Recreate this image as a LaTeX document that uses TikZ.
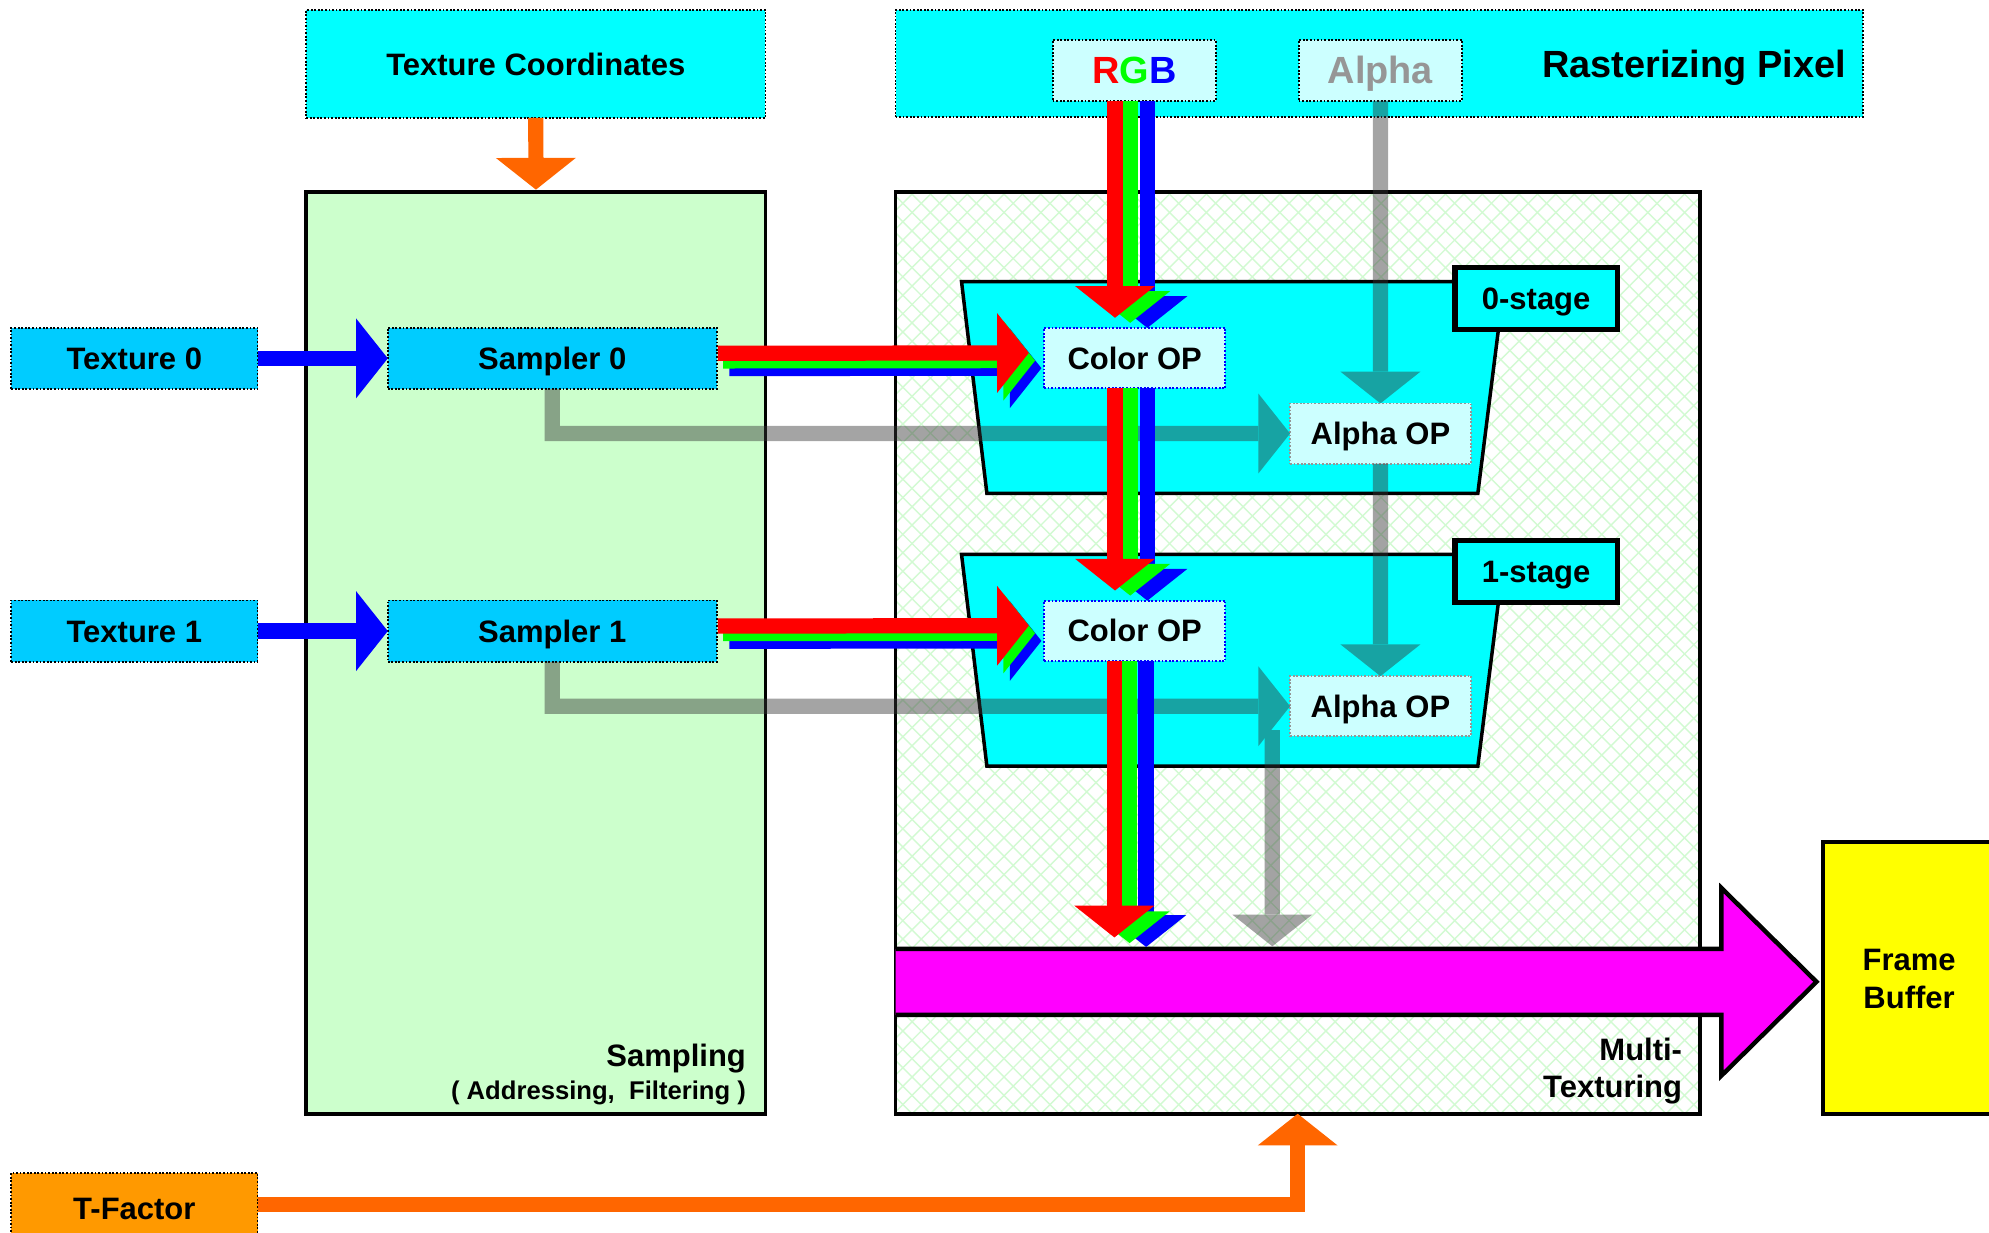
\documentclass[tikz,border=0pt]{standalone}
\usepackage{fontspec}
\setmainfont{Liberation Sans}
\usetikzlibrary{arrows.meta,calc}
\definecolor{cyanbg}{HTML}{00FFFF}
\definecolor{skyb}{HTML}{00CCFF}
\definecolor{lcyan}{HTML}{CCFFFF}
\definecolor{lgreen}{HTML}{CCFFCC}
\definecolor{hatchc}{RGB}{210,250,210}
\definecolor{magent}{HTML}{FF00FF}
\definecolor{yel}{HTML}{FFFF00}
\definecolor{tfac}{HTML}{FF9900}
\definecolor{orng}{HTML}{FF6600}
\definecolor{arrblue}{HTML}{0000FF}
\definecolor{arrred}{HTML}{FF0000}
\definecolor{arrgreen}{HTML}{00FF00}
\definecolor{darkg}{RGB}{53,53,53}
\definecolor{alphatxt}{RGB}{150,150,150}
\newcommand\mybox[7][]{\node[#1, minimum width={(#5-#3)*0.2mm}, minimum height={(#6-#4)*0.2mm}] (#2) at ({(#3+#5)/2},{(#4+#6)/2}) {#7};}
\begin{document}
\begin{tikzpicture}[x=0.2mm, y=-0.2mm,
  every node/.style={inner sep=0pt, outer sep=0pt},
  txt/.style={font=\bfseries\fontsize{13.9}{17}\selectfont},
  lbl/.style={txt, text height=10pt, text depth=0pt},
  biglbl/.style={font=\bfseries\fontsize{17}{20}\selectfont, text height=12.2pt, text depth=0pt},
  smalltxt/.style={font=\bfseries\fontsize{11.5}{14}\selectfont},
  dotbox/.style={draw=black, line width=0.8pt, dash pattern=on 0.8pt off 0.8pt},
  bluedot/.style={draw=arrblue, line width=0.8pt, dash pattern=on 0.8pt off 0.8pt},
  graydot/.style={draw=alphatxt, line width=0.8pt, dash pattern=on 0.8pt off 0.8pt},
  stagebox/.style={draw=black, line width=0.8mm, fill=cyanbg, lbl},
  blk/.style={line width=2.4mm, line cap=butt, line join=miter, -{Triangle[length=5mm,width=12.6mm,line width=0pt]}},
  hatch/.style={draw=hatchc, line width=0.22mm},
  trap/.style={fill=cyanbg, draw=black, line width=0.55mm, line join=miter}
]
\useasboundingbox (0,0) rectangle (1568,972);
\clip (0,0) rectangle (1568,972);

% top boxes
\mybox[dotbox, fill=cyanbg, lbl]{tc}{241.4}{7.9}{603.4}{93}{Texture Coordinates}
\mybox[dotbox, fill=cyanbg]{ras}{706}{7.9}{1468.7}{92}{}
\node[biglbl] (rastxt) at (1335.5,50) {Rasterizing Pixel};
\mybox[dotbox, fill=lcyan, biglbl]{rgb}{829.8}{31.5}{958.6}{79.4}{\textcolor{arrred}{R}\textcolor{arrgreen}{G}\textcolor{arrblue}{B}}
\mybox[dotbox, fill=lcyan, biglbl, text=alphatxt]{alpha}{1023.8}{31.5}{1152.6}{79.4}{Alpha}

% sampling box
\mybox[fill=lgreen, draw=black, line width=0.6mm]{samp}{241.5}{151.5}{603.5}{878}{}
\node[txt, anchor=base east] (samptxt) at (588,841) {Sampling};
\node[smalltxt, anchor=base east] (samptxt2) at (588,867) {( Addressing,\ \ Filtering )};

% multi-texturing box with hatch
\mybox[fill=white]{multi}{706}{151.5}{1340}{878}{}
\begin{scope}
  \clip (706,151.5) rectangle (1340,878);
  \foreach \i in {0,...,99} {
    \draw[hatch] ({706-728+\i*14.5},151.5) -- ++(728,728);
    \draw[hatch] ({706+\i*14.5},151.5) -- ++(-728,728);
  }
\end{scope}
\draw[line width=0.6mm] (multi.north west) rectangle (multi.south east);
\node[txt, anchor=base east] (multitxt) at (1326,836) {Multi-};
\node[txt, anchor=base east] (multitxt2) at (1326,865.5) {Texturing};

% frame buffer
\mybox[fill=yel, draw=black, line width=0.65mm]{fb}{1437}{664}{1640}{878}{}
\node[txt, align=center] (fbtxt) at (1505,772) {Frame\\Buffer};

% stages
\filldraw[trap] (758,222) -- (1186,222) -- (1165,389) -- (778,389) -- cycle;
\filldraw[trap] (758,437) -- (1186,437) -- (1165,604) -- (778,604) -- cycle;
\mybox[stagebox]{st0}{1147}{211}{1275}{260}{0-stage}
\mybox[stagebox]{st1}{1147}{426}{1275}{475}{1-stage}

% op boxes
\mybox[bluedot, fill=lcyan, lbl]{cop0}{823}{258.5}{966}{306}{Color OP}
\mybox[bluedot, fill=lcyan, lbl]{cop1}{823}{473.5}{966}{521}{Color OP}
\mybox[graydot, fill=lcyan, lbl]{aop0}{1017}{318}{1159.5}{365.5}{Alpha OP}
\mybox[graydot, fill=lcyan, lbl]{aop1}{1017}{533}{1159.5}{580.5}{Alpha OP}

% textures and samplers
\mybox[dotbox, fill=skyb, lbl]{t0}{8.8}{258.3}{203}{306.7}{Texture 0}
\mybox[dotbox, fill=skyb, lbl]{t1}{8.8}{473.3}{203}{521.7}{Texture 1}
\mybox[dotbox, fill=skyb, lbl]{s0}{305.7}{258.3}{565}{306.7}{Sampler 0}
\mybox[dotbox, fill=skyb, lbl]{s1}{305.7}{473.3}{565}{521.7}{Sampler 1}
\mybox[dotbox, fill=tfac, lbl]{tf}{8.8}{924.5}{203}{980}{T-Factor}

% magenta arrow to frame buffer
\coordinate (magtop) at (894.5,748);
\fill[magent] (706,748) -- (1357,748) -- (1357,700) -- (1432,774) -- (1357,848) -- (1357,800) -- (706,800) -- cycle;
\draw[line width=0.7mm, line join=miter] (706,748) -- (1357,748) -- (1357,700) -- (1432,774) -- (1357,848) -- (1357,800) -- (706,800);

% gray alpha arrows
\begin{scope}[transparency group, opacity=0.45]
  \draw[blk, darkg] (s0.south) |- (aop0.west);
  \draw[blk, darkg] (s1.south) |- (aop1.west);
  \draw[blk, darkg] (alpha.south) -- (aop0.north);
  \draw[blk, darkg] (aop0.south) -- (aop1.north);
  \draw[blk, darkg] ($(aop1.south west)+(-14,-5)$) -- ($(aop1.south west |- magtop)+(-14,-2)$);
\end{scope}

% orange and blue arrows
\draw[blk, orng] (tc.south) -- ($(samp.north)+(0,-2)$);
\draw[blk, orng] ($(tf.east)+(0,-3)$) -| (multi.south);
\draw[blk, arrblue] (t0.east) -- (s0.west);
\draw[blk, arrblue] (t1.east) -- (s1.west);

% RGB horizontal arrows
\draw[blk, arrblue] ($(s0.east)+(10,8)$) -- ($(cop0.west)+(-2,8)$);
\draw[blk, arrgreen] ($(s0.east)+(5,2)$) -- ($(cop0.west)+(-7,2)$);
\draw[blk, arrred] ($(s0.east)+(1,-4)$) -- ($(cop0.west)+(-12,-4)$);
\draw[blk, arrblue] ($(s1.east)+(10,8)$) -- ($(cop1.west)+(-2,8)$);
\draw[blk, arrgreen] ($(s1.east)+(5,2)$) -- ($(cop1.west)+(-7,2)$);
\draw[blk, arrred] ($(s1.east)+(1,-4)$) -- ($(cop1.west)+(-12,-4)$);

% RGB vertical arrows
\draw[blk, arrblue] ($(rgb.south)+(10.3,0)$) -- ($(cop0.north)+(10,0)$);
\draw[blk, arrgreen] ($(rgb.south)+(-3.2,0)$) -- ($(cop0.north)+(-3.5,-4)$);
\draw[blk, arrred] ($(rgb.south)+(-15.2,0)$) -- ($(cop0.north)+(-15.5,-8)$);
\draw[blk, arrblue] ($(cop0.south)+(10,0)$) -- ($(cop1.north)+(10,0)$);
\draw[blk, arrgreen] ($(cop0.south)+(-3.5,0)$) -- ($(cop1.north)+(-3.5,-4)$);
\draw[blk, arrred] ($(cop0.south)+(-15.5,0)$) -- ($(cop1.north)+(-15.5,-8)$);
\draw[blk, arrblue] ($(cop1.south)+(9,0)$) -- ($(magtop)+(9,-1.5)$);
\draw[blk, arrgreen] ($(cop1.south)+(-4,0)$) -- ($(magtop)+(-4,-4.5)$);
\draw[blk, arrred] ($(cop1.south)+(-16,0)$) -- ($(magtop)+(-16,-9)$);
\end{tikzpicture}
\end{document}
